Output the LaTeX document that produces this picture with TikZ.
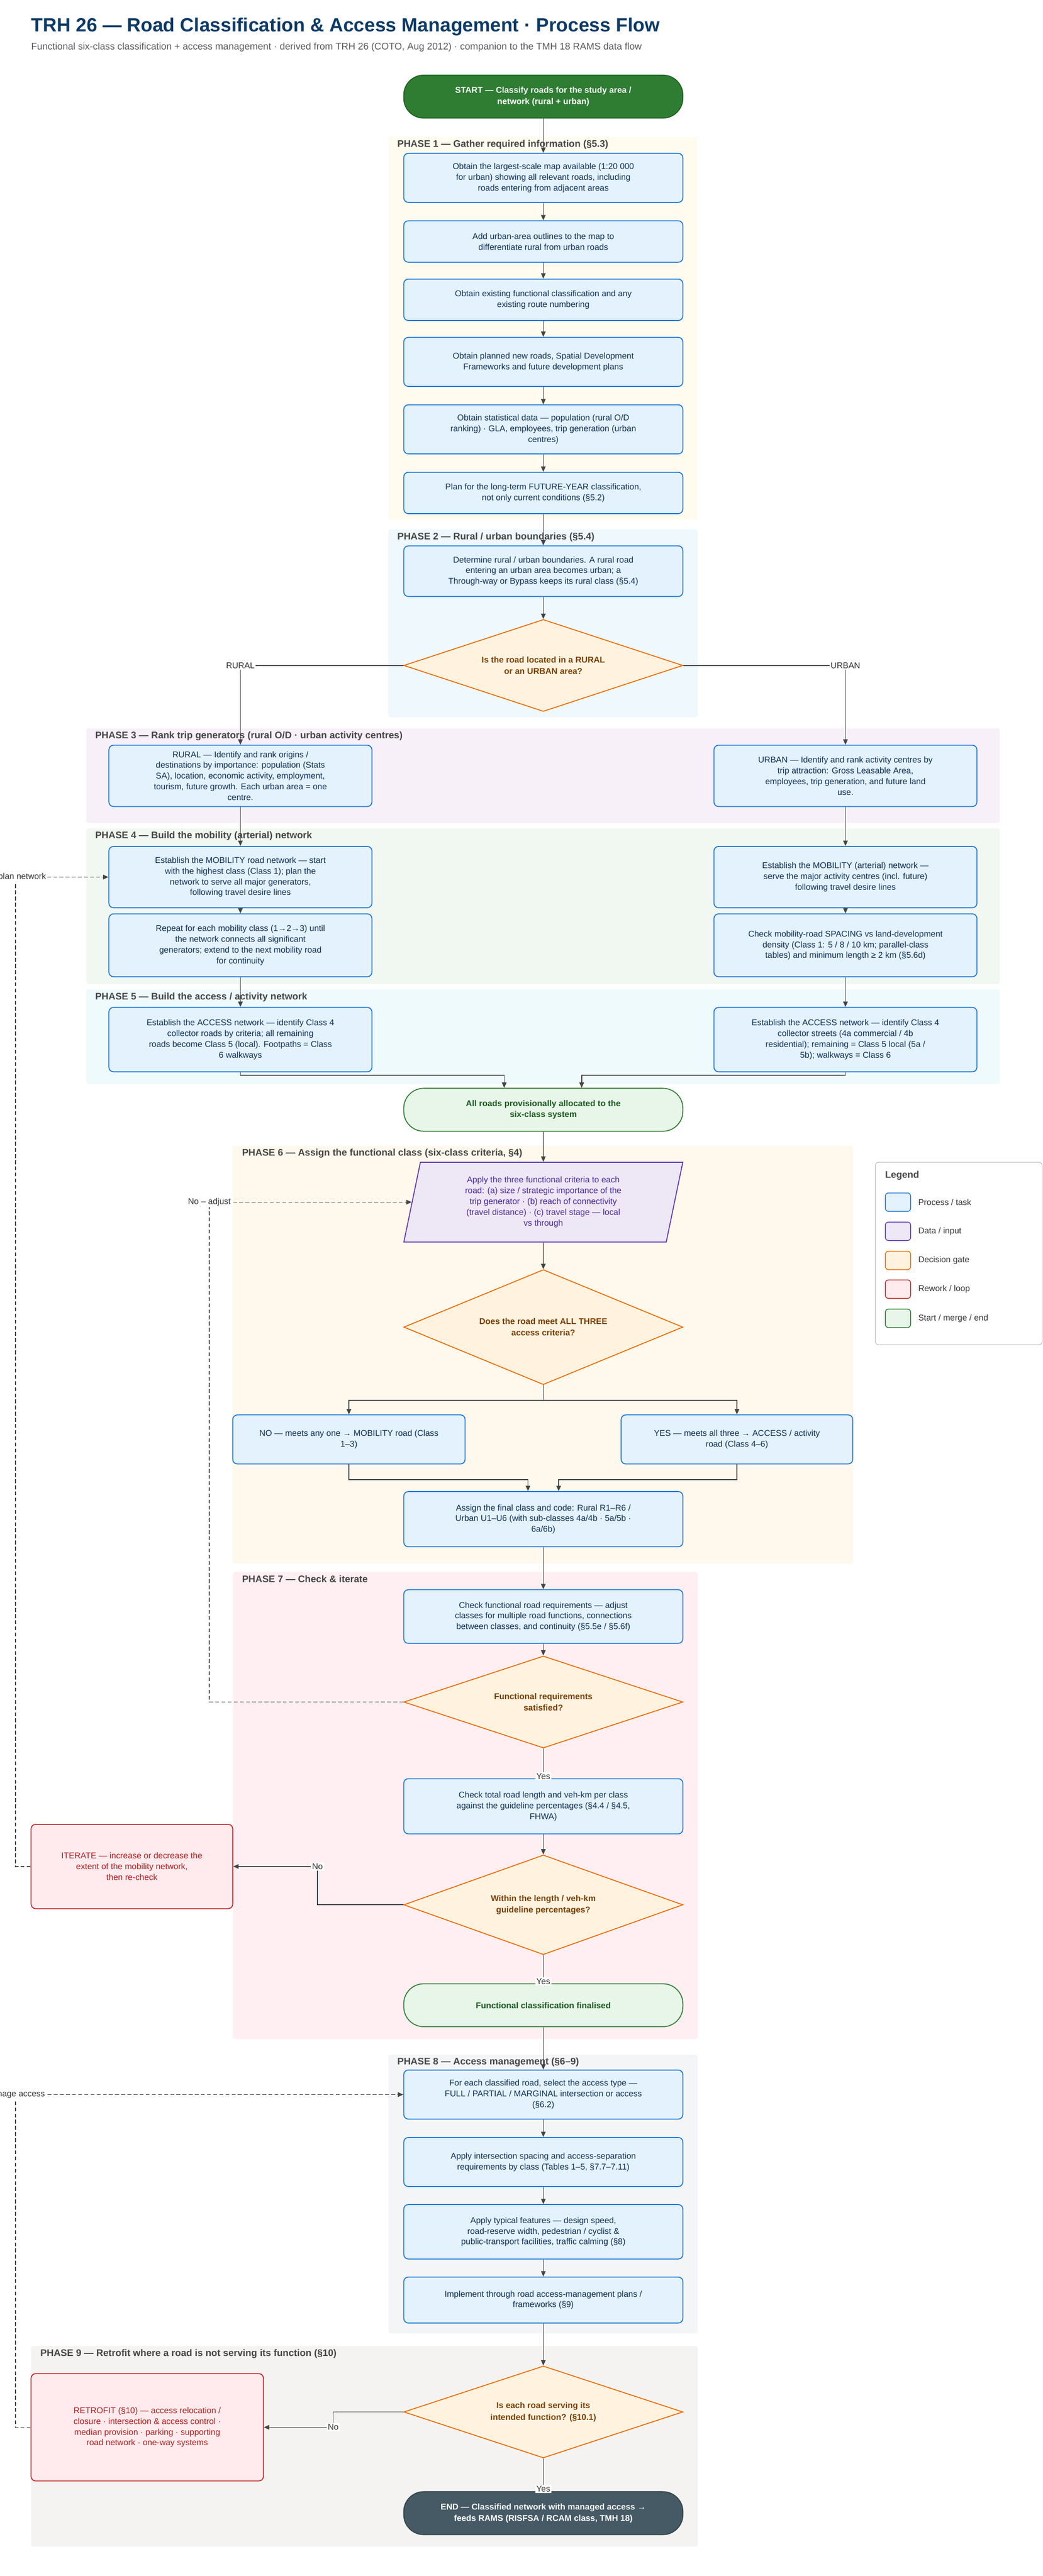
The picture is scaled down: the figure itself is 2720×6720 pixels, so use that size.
\documentclass[tikz,border=0pt]{standalone}
\usepackage{fontspec}
\setmainfont{Liberation Sans}
\usetikzlibrary{shapes.geometric,arrows.meta,positioning}

\definecolor{navy}{HTML}{0D3A66}
\definecolor{boxtext}{HTML}{0D2F5A}
\definecolor{procfill}{HTML}{E3F2FD}
\definecolor{procline}{HTML}{1E78D6}
\definecolor{datafill}{HTML}{EDE7F6}
\definecolor{dataline}{HTML}{5E35B1}
\definecolor{datatext}{HTML}{4527A0}
\definecolor{gatefill}{HTML}{FFF3E0}
\definecolor{gateline}{HTML}{EF6C00}
\definecolor{gatetext}{HTML}{7A3E00}
\definecolor{workfill}{HTML}{FFEBEE}
\definecolor{workline}{HTML}{C62828}
\definecolor{worktext}{HTML}{B71C1C}
\definecolor{okfill}{HTML}{E8F5E9}
\definecolor{okline}{HTML}{2E7D32}
\definecolor{oktext}{HTML}{1B5E20}
\definecolor{endfill}{HTML}{455A64}
\definecolor{wire}{HTML}{444444}
\definecolor{phaseA}{HTML}{FFFBEF}
\definecolor{phaseB}{HTML}{EEF8FD}
\definecolor{phaseC}{HTML}{F7F0F8}
\definecolor{phaseD}{HTML}{F1F8F1}
\definecolor{phaseE}{HTML}{EEFAFB}
\definecolor{phaseF}{HTML}{FFF8EC}
\definecolor{phaseG}{HTML}{FFEFF3}
\definecolor{phaseH}{HTML}{F4F5F7}
\definecolor{phaseI}{HTML}{F4F3F2}

\begin{document}
\begin{tikzpicture}[x=0.5pt,y=-0.5pt,
                    body/.style={font=\fontsize{11}{14}\selectfont},
                    process/.style={body,rectangle,rounded corners=6pt,draw=procline,line width=1.2pt,fill=procfill,text=boxtext,align=center,minimum width=364pt},
                    dataio/.style={body,trapezium,trapezium left angle=79,trapezium right angle=101,trapezium stretches=true,draw=dataline,line width=1.2pt,fill=datafill,text=datatext,align=center,minimum width=364pt,minimum height=104pt},
                    gate/.style={font=\fontsize{11}{15}\selectfont\bfseries,diamond,aspect=3,inner sep=0pt,draw=gateline,line width=1.2pt,fill=gatefill,text=gatetext,align=center,minimum width=364pt},
                    rework/.style={body,rectangle,rounded corners=6pt,draw=workline,line width=1.2pt,fill=workfill,text=worktext,align=center},
                    mergebox/.style={font=\fontsize{11}{14}\selectfont\bfseries,rectangle,rounded corners=26pt,draw=okline,line width=1.2pt,fill=okfill,text=oktext,align=center,minimum width=364pt},
                    terminal/.style={font=\fontsize{11}{15}\selectfont\bfseries,rectangle,rounded corners=26pt,draw=black!60,line width=1.2pt,text=white,align=center,minimum width=364pt,minimum height=56pt},
                    phase/.style={font=\fontsize{12.5}{15}\selectfont\bfseries,text=black!72,anchor=north west,inner sep=0pt},
                    arr/.style={draw=wire,line width=1.1pt,-{Triangle[length=7pt,width=6pt]}},
                    loop/.style={draw=wire,line width=1.1pt,dash pattern=on 5pt off 3pt,-{Triangle[length=7pt,width=6pt]}},
                    tag/.style={body,fill=white,inner sep=1.5pt,text=black!80},
                    swatch/.style={rectangle,rounded corners=4pt,line width=1pt,minimum width=33pt,minimum height=24pt}
                ]
                    \useasboundingbox (0,0) rectangle (2720,6720);

                    % title
                    \node[anchor=west,inner sep=0pt,font=\fontsize{25}{30}\selectfont\bfseries,text=navy] (title) at (81,70) {TRH 26 --- Road Classification \& Access Management · Process Flow};
                    \node[anchor=west,inner sep=0pt,font=\fontsize{12.5}{15}\selectfont,text=black!65] (subtitle) at (81,123) {Functional six-class classification + access management · derived from TRH 26 (COTO, Aug 2012) · companion to the TMH 18 RAMS data flow};

                    % phase panels
                    \fill[phaseA,rounded corners=3pt] (1013,357) rectangle (1820,1356);
                    \fill[phaseB,rounded corners=3pt] (1013,1381) rectangle (1820,1871);
                    \fill[phaseC,rounded corners=3pt] (225,1900) rectangle (2608,2147);
                    \fill[phaseD,rounded corners=3pt] (225,2161) rectangle (2608,2567);
                    \fill[phaseE,rounded corners=3pt] (225,2581) rectangle (2608,2828);
                    \fill[phaseF,rounded corners=3pt] (607,2989) rectangle (2224,4079);
                    \fill[phaseG,rounded corners=3pt] (607,4101) rectangle (1820,5319);
                    \fill[phaseH,rounded corners=3pt] (1013,5360) rectangle (1820,6087);
                    \fill[phaseI,rounded corners=3pt] (81,6120) rectangle (1820,6643);
                    \node[phase] (ph1) at (1036,365) {PHASE 1 --- Gather required information (§5.3)};
                    \node[phase] (ph2) at (1036,1389) {PHASE 2 --- Rural / urban boundaries (§5.4)};
                    \node[phase] (ph3) at (248,1908) {PHASE 3 --- Rank trip generators (rural O/D · urban activity centres)};
                    \node[phase] (ph4) at (248,2169) {PHASE 4 --- Build the mobility (arterial) network};
                    \node[phase] (ph5) at (248,2589) {PHASE 5 --- Build the access / activity network};
                    \node[phase] (ph6) at (631,2997) {PHASE 6 --- Assign the functional class (six-class criteria, §4)};
                    \node[phase] (ph7) at (631,4109) {PHASE 7 --- Check \& iterate};
                    \node[phase] (ph8) at (1036,5368) {PHASE 8 --- Access management (§6--9)};
                    \node[phase] (ph9) at (105,6128) {PHASE 9 --- Retrofit where a road is not serving its function (§10)};

                    % phase 1 & 2
                    \node[terminal,fill=okline,draw=oktext] (start) at (1417,252) {START --- Classify roads for the study area /\\network (rural + urban)};
                    \node[process,minimum height=64pt] (map) at (1417,464) {Obtain the largest-scale map available (1:20 000\\for urban) showing all relevant roads, including\\roads entering from adjacent areas};
                    \node[process,minimum height=54pt] (outline) at (1417,630) {Add urban-area outlines to the map to\\differentiate rural from urban roads};
                    \node[process,minimum height=54pt] (existing) at (1417,782) {Obtain existing functional classification and any\\existing route numbering};
                    \node[process,minimum height=64pt] (planned) at (1417,944) {Obtain planned new roads, Spatial Development\\Frameworks and future development plans};
                    \node[process,minimum height=64pt] (stats) at (1417,1120) {Obtain statistical data --- population (rural O/D\\ranking) · GLA, employees, trip generation (urban\\centres)};
                    \node[process,minimum height=54pt] (future) at (1417,1286) {Plan for the long-term FUTURE-YEAR classification,\\not only current conditions (§5.2)};
                    \node[process,minimum height=66pt] (bound) at (1417,1490) {Determine rural / urban boundaries. A rural road\\entering an urban area becomes urban; a\\Through-way or Bypass keeps its rural class (§5.4)};
                    \node[gate,minimum height=120pt] (area) at (1417,1736) {Is the road located in a RURAL\\or an URBAN area?};

                    % phases 3 to 5
                    \node[process,minimum width=343pt,minimum height=80pt] (rrank) at (627,2024) {RURAL --- Identify and rank origins /\\destinations by importance: population (Stats\\SA), location, economic activity, employment,\\tourism, future growth. Each urban area = one\\centre.};
                    \node[process,minimum width=343pt,minimum height=80pt] (urank) at (2205,2024) {URBAN --- Identify and rank activity centres by\\trip attraction: Gross Leasable Area,\\employees, trip generation, and future land\\use.};
                    \node[process,minimum width=343pt,minimum height=80pt] (rmob) at (627,2288) {Establish the MOBILITY road network --- start\\with the highest class (Class 1); plan the\\network to serve all major generators,\\following travel desire lines};
                    \node[process,minimum width=343pt,minimum height=80pt] (umob) at (2205,2288) {Establish the MOBILITY (arterial) network ---\\serve the major activity centres (incl. future)\\following travel desire lines};
                    \node[process,minimum width=343pt,minimum height=82pt] (rrep) at (627,2466) {Repeat for each mobility class (1→2→3) until\\the network connects all significant\\generators; extend to the next mobility road\\for continuity};
                    \node[process,minimum width=343pt,minimum height=82pt] (uspace) at (2205,2466) {Check mobility-road SPACING vs land-development\\density (Class 1: 5 / 8 / 10 km; parallel-class\\tables) and minimum length ≥ 2 km (§5.6d)};
                    \node[process,minimum width=343pt,minimum height=84pt] (racc) at (627,2712) {Establish the ACCESS network --- identify Class 4\\collector roads by criteria; all remaining\\roads become Class 5 (local). Footpaths = Class\\6 walkways};
                    \node[process,minimum width=343pt,minimum height=84pt] (uacc) at (2205,2712) {Establish the ACCESS network --- identify Class 4\\collector streets (4a commercial / 4b\\residential); remaining = Class 5 local (5a /\\5b); walkways = Class 6};
                    \node[mergebox,minimum height=56pt] (merge) at (1417,2895) {All roads provisionally allocated to the\\six-class system};

                    % phase 6
                    \node[dataio] (criteria) at (1417,3136) {Apply the three functional criteria to each\\road: (a) size / strategic importance of the\\trip generator · (b) reach of connectivity\\(travel distance) · (c) travel stage --- local\\vs through};
                    \node[gate,minimum height=150pt] (three) at (1417,3462) {Does the road meet ALL THREE\\access criteria?};
                    \node[process,minimum width=303pt,minimum height=64pt] (mob) at (910,3755) {NO --- meets any one → MOBILITY road (Class\\1--3)};
                    \node[process,minimum width=302pt,minimum height=64pt] (acc) at (1922,3755) {YES --- meets all three → ACCESS / activity\\road (Class 4--6)};
                    \node[process,minimum height=72pt] (assign) at (1417,3963) {Assign the final class and code: Rural R1--R6 /\\Urban U1--U6 (with sub-classes 4a/4b · 5a/5b ·\\6a/6b)};

                    % phase 7
                    \node[process,minimum height=70pt] (check) at (1417,4217) {Check functional road requirements --- adjust\\classes for multiple road functions, connections\\between classes, and continuity (§5.5e / §5.6f)};
                    \node[gate,minimum height=120pt] (funcok) at (1417,4440) {Functional requirements\\satisfied?};
                    \node[process,minimum height=72pt] (length) at (1417,4712) {Check total road length and veh-km per class\\against the guideline percentages (§4.4 / §4.5,\\FHWA)};
                    \node[gate,minimum height=130pt] (within) at (1417,4969) {Within the length / veh-km\\guideline percentages?};
                    \node[rework,minimum width=263pt,minimum height=110pt] (iterate) at (344,4869) {ITERATE --- increase or decrease the\\extent of the mobility network,\\then re-check};
                    \node[mergebox,minimum height=56pt] (final) at (1417,5231) {Functional classification finalised};

                    % phase 8 & 9
                    \node[process,minimum height=64pt] (type) at (1417,5464) {For each classified road, select the access type ---\\FULL / PARTIAL / MARGINAL intersection or access\\(§6.2)};
                    \node[process,minimum height=64pt] (spacing) at (1417,5640) {Apply intersection spacing and access-separation\\requirements by class (Tables 1--5, §7.7--7.11)};
                    \node[process,minimum height=71pt] (features) at (1417,5822) {Apply typical features --- design speed,\\road-reserve width, pedestrian / cyclist \&\\public-transport facilities, traffic calming (§8)};
                    \node[process,minimum height=60pt] (implement) at (1417,6000) {Implement through road access-management plans /\\frameworks (§9)};
                    \node[gate,minimum height=120pt] (serving) at (1417,6292) {Is each road serving its\\intended function? (§10.1)};
                    \node[rework,minimum width=303pt,minimum height=140pt] (retrofit) at (384,6332) {RETROFIT (§10) --- access relocation /\\closure · intersection \& access control ·\\median provision · parking · supporting\\road network · one-way systems};
                    \node[terminal,fill=endfill,draw=endfill!70!black] (finish) at (1417,6556) {END --- Classified network with managed access →\\feeds RAMS (RISFSA / RCAM class, TMH 18)};

                    % main flow
                    \draw[arr] (start) -- (map);
                    \draw[arr] (map) -- (outline);
                    \draw[arr] (outline) -- (existing);
                    \draw[arr] (existing) -- (planned);
                    \draw[arr] (planned) -- (stats);
                    \draw[arr] (stats) -- (future);
                    \draw[arr] (future) -- (bound);
                    \draw[arr] (bound) -- (area);
                    \draw[arr] (area.west) -| node[tag,pos=0.5] {RURAL} (rrank.north);
                    \draw[arr] (area.east) -| node[tag,pos=0.5] {URBAN} (urank.north);
                    \draw[arr] (rrank) -- (rmob);
                    \draw[arr] (rmob) -- (rrep);
                    \draw[arr] (rrep) -- (racc);
                    \draw[arr] (urank) -- (umob);
                    \draw[arr] (umob) -- (uspace);
                    \draw[arr] (uspace) -- (uacc);
                    \draw[arr] (racc.south) -- ++(0,8) -| ([xshift=-51pt]merge.north);
                    \draw[arr] (uacc.south) -- ++(0,8) -| ([xshift=50pt]merge.north);
                    \draw[arr] (merge) -- (criteria);
                    \draw[arr] (criteria) -- (three);
                    \draw[arr] (three.south) -- ++(0,40) -| (mob.north);
                    \draw[arr] (three.south) -- ++(0,40) -| (acc.north);
                    \draw[arr] (mob.south) -- ++(0,40) -| ([xshift=-20pt]assign.north);
                    \draw[arr] (acc.south) -- ++(0,40) -| ([xshift=20pt]assign.north);
                    \draw[arr] (assign) -- (check);
                    \draw[arr] (check) -- (funcok);
                    \draw[arr] (funcok) -- node[tag,pos=0.93] {Yes} (length);
                    \draw[arr] (length) -- (within);
                    \draw[arr] (within.west) -- (828,4969) |- node[tag,pos=0.5] {No} (iterate.east);
                    \draw[arr] (within) -- node[tag,pos=0.93] {Yes} (final);
                    \draw[arr] (final) -- (type);
                    \draw[arr] (type) -- (spacing);
                    \draw[arr] (spacing) -- (features);
                    \draw[arr] (features) -- (implement);
                    \draw[arr] (implement) -- (serving);
                    \draw[arr] (serving.west) -- (869,6292) |- node[tag,pos=0.5] {No} (retrofit.east);
                    \draw[arr] (serving) -- node[tag,pos=0.93] {Yes} (finish);

                    % loops back
                    \draw[loop] (funcok.west) -- (546,4440) |- node[tag,pos=0.5] {No -- adjust} (criteria.west);
                    \draw[loop] (iterate.west) -- (40,4869) |- node[tag,pos=0.5] {Re-plan network} (rmob.west);
                    \draw[loop] (retrofit.west) -- (40,6332) |- node[tag,pos=0.5] {Manage access} (type.west);

                    % legend
                    \draw[black!25,fill=white,rounded corners=4pt,line width=0.8pt] (2283,3032) rectangle (2718,3508);
                    \node[anchor=west,font=\fontsize{12.5}{15}\selectfont\bfseries,text=black!72,inner sep=0pt] (legend) at (2308,3067) {Legend};
                    \foreach \kind/\fillc/\linec/\y in {{Process / task}/procfill/procline/3136,{Data / input}/datafill/dataline/3212,{Decision gate}/gatefill/gateline/3288,{Rework / loop}/workfill/workline/3363,{Start / merge / end}/okfill/okline/3439}
                        {
                        \node[swatch,fill=\fillc,draw=\linec] (key\y) at (2342,\y) {};
                        \node[body,anchor=west,right=6pt of key\y,text=black!80] {\kind};
                    }

                \end{tikzpicture}
\end{document}
